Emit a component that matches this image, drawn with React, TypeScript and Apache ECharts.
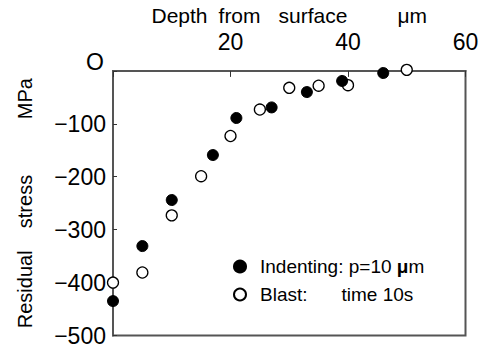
import React, { useEffect, useRef } from "react";
import * as echarts from "echarts";

const indentingDepth = [0, 5, 10, 17, 21, 27, 33, 39, 46];
const indentingStress = [-435, -331, -244, -159, -89, -69, -40, -19, -4];
const blastDepth = [0, 5, 10, 15, 20, 25, 30, 35, 40, 50];
const blastStress = [-400, -381, -273, -199, -123, -73, -32, -28, -27, 2];
const xTicks = [0, 20, 40, 60];
const yTicks = [-500, -400, -300, -200, -100, 0];

const FONT = "'Liberation Sans', Arial, sans-serif";

export default function App() {
  const ref = useRef<HTMLDivElement>(null);
  useEffect(() => {
    if (!ref.current) return;
    const chart = echarts.init(ref.current, null, { renderer: "svg" });
    const toPairs = (xs: number[], ys: number[]) => xs.map((x, i) => [x, ys[i]]);
    const nm = { fontSize: 21, color: "#000", fontFamily: FONT };
    chart.setOption({
      animation: false,
      backgroundColor: "#fff",
      textStyle: { fontFamily: FONT },
      grid: {
        left: 113,
        right: 20.5,
        top: 69,
        bottom: 10,
        show: true,
        borderColor: "#555",
        borderWidth: 2,
        backgroundColor: "transparent",
      },
      xAxis: {
        type: "value",
        position: "top",
        min: xTicks[0],
        max: xTicks[xTicks.length - 1],
        interval: 20,
        name: "{a|Depth}{b|from}{c|surface}{d|μm}",
        nameLocation: "middle",
        nameGap: 40,
        nameTextStyle: {
          ...nm,
          rich: {
            a: { ...nm },
            b: { ...nm, padding: [0, 0, 0, 11] },
            c: { ...nm, padding: [0, 0, 0, 18] },
            d: { ...nm, padding: [0, 0, 0, 50] },
          },
        },
        axisLine: { show: true, lineStyle: { color: "#555", width: 2 } },
        axisTick: {
          show: true,
          inside: true,
          length: 6,
          lineStyle: { color: "#333", width: 1 },
        },
        axisLabel: {
          fontSize: 23,
          color: "#000",
          margin: 17,
          fontFamily: FONT,
          formatter: (v: number) => (v === 0 ? "" : String(v)),
        },
        splitLine: { show: false },
      },
      yAxis: {
        type: "value",
        min: yTicks[0],
        max: yTicks[yTicks.length - 1],
        interval: 100,
        name: "Residual    stress          MPa",
        nameLocation: "middle",
        nameGap: 78,
        nameRotate: 90,
        nameTextStyle: { fontSize: 20, color: "#000", fontFamily: FONT },
        axisLine: { show: true, lineStyle: { color: "#555", width: 2 } },
        axisTick: {
          show: true,
          inside: true,
          length: 4,
          lineStyle: { color: "#333", width: 1 },
        },
        axisLabel: {
          fontSize: 23,
          color: "#000",
          margin: 7,
          fontFamily: FONT,
          formatter: (v: number) => (v === 0 ? "" : "\u2212" + Math.abs(v)),
        },
        splitLine: { show: false },
      },
      legend: {
        orient: "vertical",
        left: 228,
        top: 252,
        itemWidth: 12,
        itemHeight: 12,
        itemGap: 9,
        data: ["Indenting", "Blast"],
        formatter: (name: string) =>
          name === "Indenting"
            ? "{a|Indenting: p=10 }{b|μ}{a|m}"
            : "{a|Blast:}{t|time 10s}",
        textStyle: {
          color: "#000",
          fontSize: 19,
          fontFamily: FONT,
          padding: [0, 0, 0, 9],
          rich: {
            a: { fontSize: 19, color: "#000", fontFamily: FONT },
            b: { fontSize: 19, color: "#000", fontWeight: "bold", fontFamily: FONT },
            t: { fontSize: 19, color: "#000", fontFamily: FONT, padding: [0, 0, 0, 34] },
          },
        },
      },
      graphic: [
        {
          type: "text",
          left: 86,
          top: 50,
          style: { text: "O", fontSize: 23, fill: "#000", fontFamily: FONT },
        },
      ],
      series: [
        {
          name: "Indenting",
          type: "scatter",
          symbol: "circle",
          symbolSize: 11,
          clip: false,
          itemStyle: { color: "#000", borderColor: "#000", borderWidth: 1, opacity: 1 },
          data: toPairs(indentingDepth, indentingStress),
          z: 3,
        },
        {
          name: "Blast",
          type: "scatter",
          symbol: "circle",
          symbolSize: 11,
          clip: false,
          itemStyle: { color: "#fff", borderColor: "#000", borderWidth: 1.3, opacity: 1 },
          data: toPairs(blastDepth, blastStress),
          z: 2,
        },
      ],
    });
    return () => chart.dispose();
  }, []);
  return <div ref={ref} style={{ width: 486, height: 347, position: "fixed", left: 0, top: 0 }} />;
}
